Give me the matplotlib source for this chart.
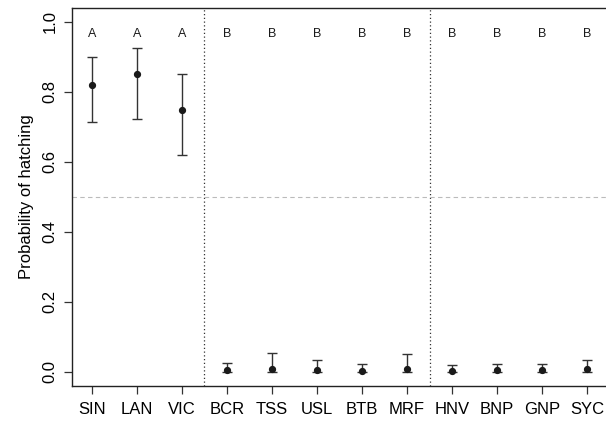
import matplotlib
matplotlib.use("Agg")
import matplotlib.pyplot as plt
import numpy as np

plt.rcParams['font.family'] = ['Liberation Sans', 'DejaVu Sans']

sites = ["SIN", "LAN", "VIC", "BCR", "TSS", "USL", "BTB", "MRF", "HNV", "BNP", "GNP", "SYC"]
mean = [0.818, 0.851, 0.748, 0.006, 0.009, 0.007, 0.004, 0.008, 0.004, 0.005, 0.005, 0.008]
lower = [0.712, 0.722, 0.620, 0.0005, 0.0005, 0.0005, 0.0005, 0.0005, 0.0005, 0.0005, 0.0005, 0.0005]
upper = [0.898, 0.925, 0.849, 0.025, 0.055, 0.035, 0.022, 0.050, 0.021, 0.024, 0.024, 0.033]
groups = ["A", "A", "A", "B", "B", "B", "B", "B", "B", "B", "B", "B"]
dividers = [3.5, 8.5]
yticks = [0.0, 0.2, 0.4, 0.6, 0.8, 1.0]

W, H = 606, 421
fig = plt.figure(figsize=(W / 100, H / 100), dpi=100)
left, right, top, bottom = 72, 607, 7.5, 386
ax = fig.add_axes([left / W, 1 - bottom / H, (right - left) / W, (bottom - top) / H])

x = np.arange(1, len(sites) + 1)
m = np.array(mean)
lo = np.array(lower)
hi = np.array(upper)
ax.errorbar(x, m, yerr=[m - lo, hi - m], fmt='o', color='#1a1a1a', ecolor='#333333',
            elinewidth=1.0, capsize=3.6, capthick=1.0, markersize=4.2, zorder=3)

for d in dividers:
    ax.axvline(d, color='#333333', linestyle=(0, (1, 2)), linewidth=0.9, zorder=1)
ax.axhline(0.5, color='#bbbbbb', linestyle=(0, (4, 3)), linewidth=0.8, zorder=1)

for xi, g in zip(x, groups):
    ax.text(xi, 0.965, g, ha='center', va='center', fontsize=9, color='#1a1a1a')

ax.set_xlim(0.56, 12.44)
ax.set_ylim(-0.04, 1.04)
ax.set_xticks(x)
ax.set_xticklabels(sites, fontsize=12)
ax.set_yticks(yticks)
ax.set_yticklabels([f"{v:.1f}" for v in yticks], fontsize=12, rotation=90, va='center')
ax.tick_params(axis='both', direction='out', length=5.8, width=0.9, color='#333333')
ax.tick_params(axis='x', pad=6)
ax.tick_params(axis='y', pad=4.5)
ax.set_ylabel("Probability of hatching", fontsize=12, labelpad=6)
for s in ax.spines.values():
    s.set_linewidth(1.0)
    s.set_color('#222222')

fig.savefig("out.png", dpi=100)
